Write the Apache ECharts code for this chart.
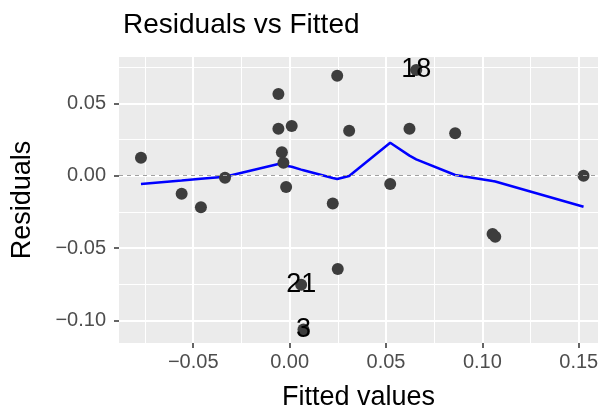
<!DOCTYPE html>
<html>
<head>
<meta charset="utf-8">
<script src="https://cdn.jsdelivr.net/npm/echarts@6/dist/echarts.min.js"></script>
<style>
  html, body { margin: 0; padding: 0; background: #ffffff; }
  #chart { width: 600px; height: 415px; }
</style>
</head>
<body>
<div id="chart"></div>
<script>
// Fitted values and residuals of the model, one entry per observation
const fitted = [
  -0.0771, -0.0560, -0.0460, -0.0335, -0.0058, -0.0058, 0.0011, -0.0040,
  -0.0032, -0.0018, 0.0224, 0.0247, 0.0250, 0.0060, 0.0072, 0.0309,
  0.0522, 0.0622, 0.0657, 0.0859, 0.1053, 0.1067, 0.1525
];
const residuals = [
  0.0124, -0.0124, -0.0218, -0.0014, 0.0564, 0.0325, 0.0343, 0.0162,
  0.0090, -0.0078, -0.0191, 0.0691, -0.0644, -0.0753, -0.1061, 0.0311,
  -0.0057, 0.0325, 0.0730, 0.0293, -0.0403, -0.0421, 0.0000
];
// Observation numbers printed for the largest residuals
const obsLabels = [
  '', '', '', '', '', '', '', '',
  '', '', '', '', '', '21', '3', '',
  '', '', '18', '', '', '', ''
];

// Smoothed trend of residuals against fitted values
const smoothX = [
  -0.0771, -0.0560, -0.0460, -0.0335, -0.0058, -0.0040, -0.0032, -0.0018,
  0.0011, 0.0060, 0.0072, 0.0224, 0.0247, 0.0250, 0.0309, 0.0522,
  0.0622, 0.0657, 0.0859, 0.1053, 0.1067, 0.1525
];
const smoothY = [
  -0.0057, -0.0033, -0.0021, -0.0007, 0.0081, 0.0076, 0.0074, 0.0069,
  0.0062, 0.0042, 0.0038, -0.0016, -0.0023, -0.0023, -0.0002, 0.0228,
  0.0139, 0.0113, 0.0005, -0.0037, -0.0040, -0.0214
];

// Axis ticks
const xMajor = [-0.05, 0.00, 0.05, 0.10, 0.15];
const xMinor = [-0.075, -0.025, 0.025, 0.075, 0.125];
const yMajor = [-0.10, -0.05, 0.00, 0.05];
const yMinor = [-0.075, -0.025, 0.025, 0.075];
const xRange = [-0.0885, 0.160];
const yRange = [-0.1155, 0.082];

const FONT = 'Liberation Sans, Arial, Helvetica, sans-serif';
const fmt = v => {
  const s = Math.abs(v).toFixed(2);
  return (v < -1e-9 ? '\u2212' : '') + s;
};

const points = fitted.map((x, i) => ({
  value: [x, residuals[i]],
  label: { show: obsLabels[i] !== '', formatter: obsLabels[i] }
}));
const smoothLine = smoothX.map((x, i) => [x, smoothY[i]]);

const chart = echarts.init(document.getElementById('chart'), null, { renderer: 'canvas' });

const majorAxis = (values, range, extra) => Object.assign({
  type: 'value',
  min: range[0],
  max: range[1],
  axisLine: { show: false, onZero: false },
  axisTick: { show: true, customValues: values, length: 5, lineStyle: { color: '#333333', width: 1.5 } },
  splitLine: { show: true, lineStyle: { color: '#FFFFFF', width: 2 } },
  nameLocation: 'middle',
  nameTextStyle: { color: '#000000', fontSize: 27, fontFamily: FONT }
}, extra);

const minorAxis = (values, range, extra) => Object.assign({
  type: 'value',
  min: range[0],
  max: range[1],
  axisLine: { show: false, onZero: false },
  axisTick: { show: false, customValues: values },
  axisLabel: { show: false, customValues: values },
  splitLine: { show: true, lineStyle: { color: '#FFFFFF', width: 1 } }
}, extra);

chart.setOption({
  animation: false,
  backgroundColor: '#FFFFFF',
  title: {
    text: 'Residuals vs Fitted',
    left: 118,
    top: 6,
    textStyle: { color: '#000000', fontSize: 28, fontWeight: 'normal', fontFamily: FONT }
  },
  grid: {
    left: 119, right: 2, top: 57, bottom: 72,
    show: true, backgroundColor: '#EBEBEB', borderWidth: 0,
    containLabel: false, outerBoundsMode: 'none'
  },
  xAxis: [
    minorAxis(xMinor, xRange, { position: 'bottom' }),
    majorAxis(xMajor, xRange, {
      position: 'bottom',
      name: 'Fitted values', nameGap: 41,
      axisLabel: { customValues: xMajor, formatter: fmt, color: '#4D4D4D', fontSize: 20, fontFamily: FONT, margin: 9 }
    })
  ],
  yAxis: [
    minorAxis(yMinor, yRange, { position: 'left' }),
    majorAxis(yMajor, yRange, {
      position: 'left',
      name: 'Residuals', nameGap: 83,
      axisLabel: { customValues: yMajor, formatter: fmt, color: '#4D4D4D', fontSize: 20, fontFamily: FONT, margin: 13 }
    })
  ],
  series: [
    {
      type: 'line',
      xAxisIndex: 1, yAxisIndex: 1,
      data: [],
      markLine: {
        silent: true,
        symbol: 'none',
        label: { show: false },
        lineStyle: { color: '#A0A0A0', type: [4, 4], width: 1.1 },
        data: [{ yAxis: 0 }]
      }
    },
    {
      type: 'scatter',
      xAxisIndex: 1, yAxisIndex: 1,
      data: points,
      symbolSize: 12,
      itemStyle: { color: '#3D3D3D', opacity: 1 },
      label: {
        position: 'inside',
        color: '#000000',
        fontSize: 27,
        fontFamily: FONT
      },
      z: 3
    },
    {
      type: 'line',
      xAxisIndex: 1, yAxisIndex: 1,
      data: smoothLine,
      showSymbol: false,
      lineStyle: { color: '#0000FF', width: 2.5 },
      z: 2
    }
  ]
});
</script>
</body>
</html>
